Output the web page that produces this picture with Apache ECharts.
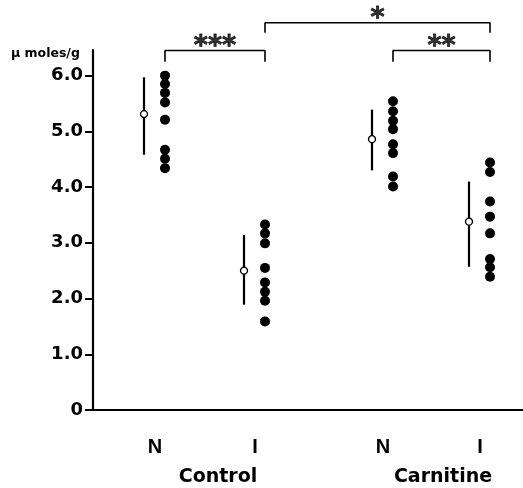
<!DOCTYPE html>
<html><head><meta charset="utf-8">
<script src="https://cdn.jsdelivr.net/npm/echarts@6/dist/echarts.min.js"></script>
<style>html,body{margin:0;padding:0;background:#fff}#c{width:523px;height:488px}</style>
</head><body><div id="c"></div>
<script>
// ---- data ----
const groupLabels = ['N', 'I', 'N', 'I'];
const treatments = ['Control', 'Carnitine'];
const controlN = [6.00, 5.85, 5.69, 5.52, 5.21, 4.67, 4.51, 4.34];
const controlI = [3.33, 3.17, 2.99, 2.55, 2.29, 2.12, 1.96, 1.59];
const carnitineN = [5.54, 5.36, 5.19, 5.04, 4.77, 4.61, 4.19, 4.01];
const carnitineI = [4.44, 4.27, 3.74, 3.47, 3.17, 2.71, 2.56, 2.39];
const means = [5.31, 2.50, 4.86, 3.38];
const lows = [4.58, 1.89, 4.30, 2.57];
const highs = [5.97, 3.14, 5.39, 4.10];
const yTicks = [0, 1, 2, 3, 4, 5, 6];
const sigLabels = ['***', '*', '**'];

// ---- layout ----
const groupX = [0.62, 1.62, 2.90, 3.87];
const treatmentX = [1.25, 3.50];
const dotOff = 0.10, meanOff = -0.11;
const brackets = [ // [fromGroup, toGroup, endY, topY]
  [0, 1, 6.25, 6.45],
  [1, 3, 6.77, 6.95],
  [2, 3, 6.25, 6.45]
];
const FONT = 'Liberation Sans, Arial, sans-serif';
const WIDE = 'DejaVu Sans, sans-serif';

const allDots = [controlN, controlI, carnitineN, carnitineI];
const series = [];

series.push({
  type: 'scatter', symbol: 'circle', symbolSize: 10,
  itemStyle: { color: '#000', opacity: 1 }, z: 3,
  data: allDots.flatMap((arr, i) => arr.map(v => [groupX[i] + dotOff, v]))
});

series.push({
  type: 'custom', z: 2,
  data: means.map((m, i) => [groupX[i] + meanOff, lows[i], highs[i]]),
  renderItem: (params, api) => {
    const p1 = api.coord([api.value(0), api.value(1)]);
    const p2 = api.coord([api.value(0), api.value(2)]);
    return { type: 'line', shape: { x1: p1[0], y1: p1[1], x2: p2[0], y2: p2[1] },
      style: { stroke: '#000', lineWidth: 2.2 } };
  }
});

series.push({
  type: 'scatter', symbol: 'circle', symbolSize: 7, z: 4,
  itemStyle: { color: '#fff', borderColor: '#000', borderWidth: 1.3, opacity: 1 },
  data: means.map((m, i) => [groupX[i] + meanOff, m])
});

brackets.forEach((b, k) => {
  const x1 = groupX[b[0]] + dotOff, x2 = groupX[b[1]] + dotOff;
  series.push({
    type: 'line', clip: false, symbol: 'none', silent: true,
    lineStyle: { color: '#000', width: 1.6 },
    data: [[x1, b[2]], [x1, b[3]], [x2, b[3]], [x2, b[2]]]
  });
  series.push({
    type: 'scatter', clip: false, symbolSize: 0, silent: true,
    label: { show: true, position: 'top', distance: -10, formatter: sigLabels[k],
      fontSize: 27, fontWeight: 'bold', color: '#000', fontFamily: WIDE,
      textBorderColor: '#000', textBorderWidth: 0.8 },
    data: [[(x1 + x2) / 2, b[3]]]
  });
});

const chart = echarts.init(document.getElementById('c'), null, { renderer: 'canvas' });
chart.setOption({
  animation: false,
  backgroundColor: '#fff',
  grid: { left: 93, right: 0, top: 50, bottom: 78 },
  xAxis: [{
    type: 'value', min: 0, max: 4.30, position: 'bottom',
    axisLine: { show: true, lineStyle: { color: '#000', width: 2.2 } },
    axisTick: { show: false }, splitLine: { show: false },
    axisLabel: {
      customValues: groupX, margin: 27, color: '#000', fontSize: 20, fontWeight: 'bold', fontFamily: FONT,
      formatter: v => { const i = groupX.findIndex(g => Math.abs(g - v) < 1e-6); return i >= 0 ? groupLabels[i] : ''; }
    }
  }, {
    type: 'value', min: 0, max: 4.30, position: 'bottom', offset: 0,
    axisLine: { show: false }, axisTick: { show: false }, splitLine: { show: false },
    axisLabel: {
      customValues: treatmentX, margin: 58, color: '#000', fontSize: 19, fontWeight: 'bold', fontFamily: WIDE,
      formatter: v => { const i = treatmentX.findIndex(g => Math.abs(g - v) < 1e-6); return i >= 0 ? treatments[i] : ''; }
    }
  }],
  yAxis: {
    type: 'value', min: 0, max: 6.46,
    axisLine: { show: true, lineStyle: { color: '#000', width: 2.2 } },
    axisTick: { show: true, customValues: yTicks, length: 8, lineStyle: { color: '#000', width: 2 } },
    splitLine: { show: false },
    axisLabel: {
      customValues: yTicks, margin: 10, color: '#000', fontSize: 18, fontWeight: 'bold', fontFamily: WIDE,
      formatter: v => v === 0 ? '0' : v.toFixed(1)
    }
  },
  graphic: [{
    type: 'text', left: 11, top: 47,
    style: { text: 'μ moles/g', font: 'bold 12.5px ' + WIDE, fill: '#000' }
  }],
  series: series
});
</script>
</body></html>
